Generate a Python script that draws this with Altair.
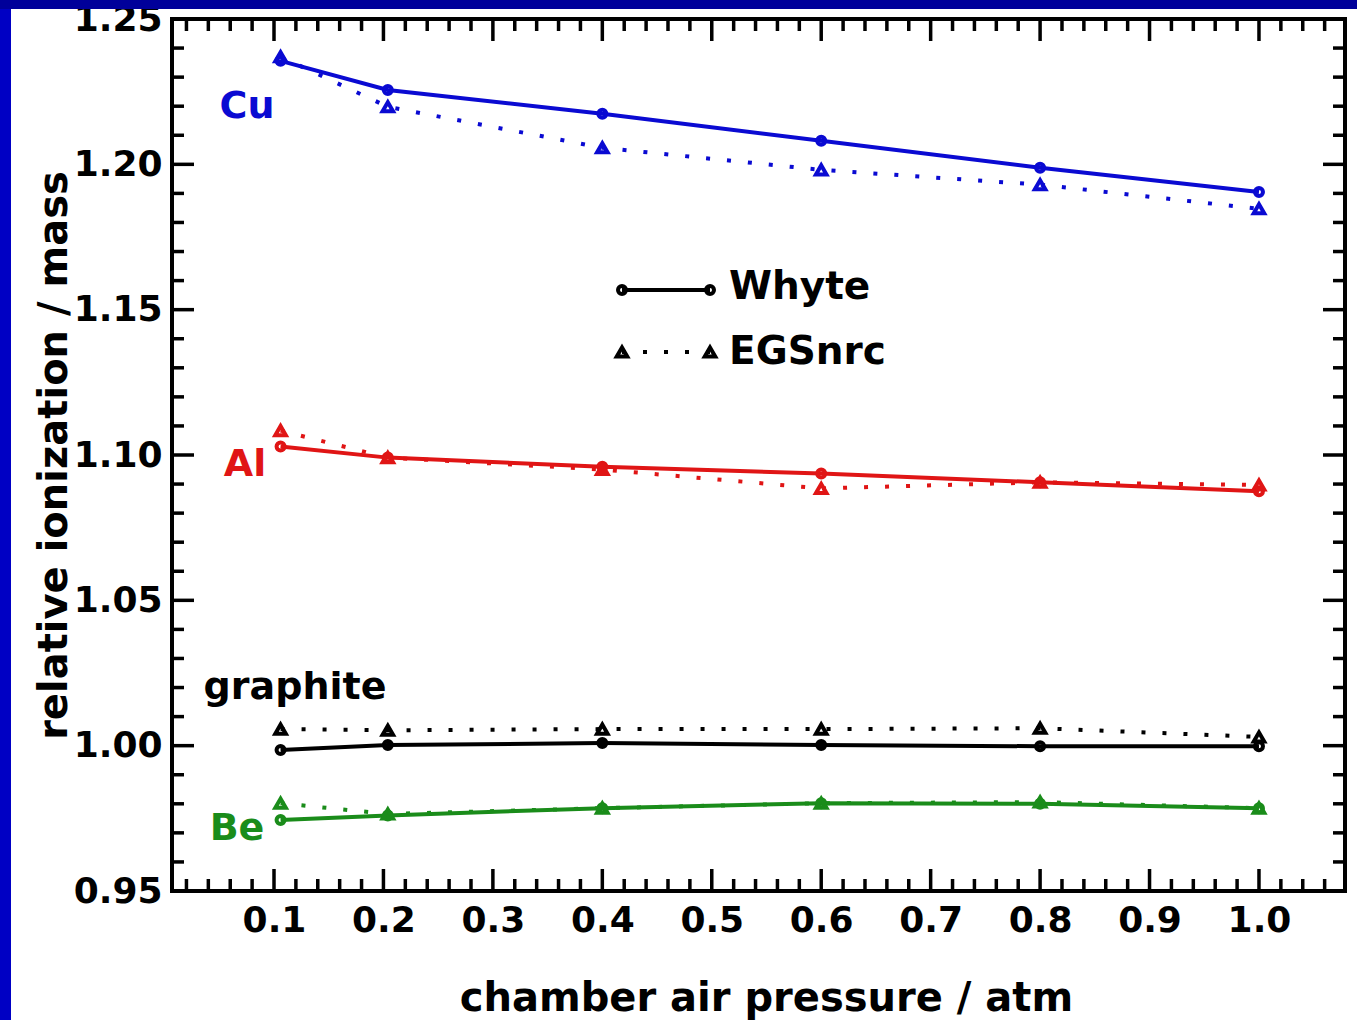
import altair as alt
import pandas as pd

# ---------------- data ----------------
pressure = [0.106, 0.204, 0.4, 0.6, 0.8, 1.0]
materials = ["Cu", "Al", "graphite", "Be"]
whyte = {
    "Cu":       [1.2356, 1.2256, 1.2174, 1.2081, 1.1988, 1.1905],
    "Al":       [1.1029, 1.0991, 1.0960, 1.0936, 1.0906, 1.0875],
    "graphite": [0.9985, 1.0002, 1.0009, 1.0002, 0.9998, 0.9998],
    "Be":       [0.9744, 0.9760, 0.9785, 0.9802, 0.9800, 0.9785],
}
egsnrc = {
    "Cu":       [1.2370, 1.2198, 1.2057, 1.1981, 1.1930, 1.1847],
    "Al":       [1.1084, 1.0991, 1.0950, 1.0885, 1.0906, 1.0897],
    "graphite": [1.0057, 1.0053, 1.0057, 1.0057, 1.0060, 1.0030],
    "Be":       [0.9802, 0.9765, 0.9785, 0.9802, 0.9806, 0.9785],
}
colors = ["#0a0ad2", "#e01515", "#000000", "#1a8c1a"]

# label anchor positions (data units)
label_x = [0.0753, 0.0735, 0.1192, 0.0662]
label_y = [1.2197, 1.0966, 1.0198, 0.9713]

x_tick_labels = [0.1, 0.2, 0.3, 0.4, 0.5, 0.6, 0.7, 0.8, 0.9, 1.0]
y_tick_labels = [0.95, 1.00, 1.05, 1.10, 1.15, 1.20, 1.25]
x_domain = [0.0068, 1.0786]
y_domain = [0.95, 1.25]

W, H = 1173, 872
FONT = "DejaVu Sans"

rows = []
for m in materials:
    for p, v in zip(pressure, whyte[m]):
        rows.append({"material": m, "method": "Whyte", "p": p, "v": v})
    for p, v in zip(pressure, egsnrc[m]):
        rows.append({"material": m, "method": "EGSnrc", "p": p, "v": v})
df = pd.DataFrame(rows)
df_w = df[df.method == "Whyte"]
df_e = df[df.method == "EGSnrc"]
labels_df = pd.DataFrame({"material": materials, "lx": label_x, "ly": label_y})

# tick positions
x_major = [round(0.1 * i, 2) for i in range(0, 11)]
x_minor = [round(0.02 * i, 2) for i in range(0, 55)]
x_minor = [t for t in x_minor if round(t * 10, 6) != round(t * 10) and x_domain[0] <= t <= x_domain[1]]
x_major = [t for t in x_major if x_domain[0] <= t <= x_domain[1]]
y_major = y_tick_labels
y_minor = [round(0.95 + 0.01 * i, 2) for i in range(31)]
y_minor = [t for t in y_minor if t not in y_major]

xs = alt.Scale(domain=x_domain, zero=False, nice=False)
ys = alt.Scale(domain=y_domain, zero=False, nice=False)
cs = alt.Scale(domain=materials, range=colors)

X = alt.X("p:Q", scale=xs, axis=alt.Axis(
    values=x_tick_labels, format=".1f", ticks=False, domain=False, grid=False,
    labelFont=FONT, labelFontSize=36, labelFontWeight="bold", labelColor="black",
    labelPadding=12, labelOverlap=False, labelFlush=False, labelBound=False,
    title="chamber air pressure / atm", titleFont=FONT, titleFontSize=40,
    titleFontWeight="bold", titleColor="black", titleX=594, titleY=119,
    titleBaseline="alphabetic"))
Y = alt.Y("v:Q", scale=ys, axis=alt.Axis(
    values=y_tick_labels, format=".2f", ticks=False, domain=False, grid=False,
    labelFont=FONT, labelFontSize=36, labelFontWeight="bold", labelColor="black",
    labelPadding=10, labelOverlap=False, labelFlush=False, labelBound=False,
    title="relative ionization / mass", titleFont=FONT, titleFontSize=40,
    titleFontWeight="bold", titleColor="black", titleX=-106, titleY=436,
    titleBaseline="alphabetic"))
C = alt.Color("material:N", scale=cs, legend=None)

CIRC = dict(shape="circle", size=64, strokeWidth=4, filled=False, opacity=1)
TRI = dict(shape="triangle-up", size=110, strokeWidth=4, filled=False, opacity=1)

whyte_line = alt.Chart(df_w).mark_line(strokeWidth=4).encode(x=X, y=Y, color=C, detail="material:N")
egs_line = alt.Chart(df_e).mark_line(strokeWidth=4, strokeDash=[4, 17], strokeCap="butt").encode(
    x=alt.X("p:Q", scale=xs), y=alt.Y("v:Q", scale=ys), color=C, detail="material:N")
whyte_pts = alt.Chart(df_w).mark_point(**CIRC).encode(
    x=alt.X("p:Q", scale=xs), y=alt.Y("v:Q", scale=ys), color=C)
egs_pts = alt.Chart(df_e).mark_point(**TRI).encode(
    x=alt.X("p:Q", scale=xs), y=alt.Y("v:Q", scale=ys), color=C)

labels = alt.Chart(labels_df).mark_text(font=FONT, fontSize=38, fontWeight="bold", align="center", baseline="middle").encode(
    x=alt.X("lx:Q", scale=xs), y=alt.Y("ly:Q", scale=ys), text="material:N", color=C)

# inward ticks on all four sides
def xticks(vals, length):
    d = pd.DataFrame({"t": vals})
    b = alt.Chart(d).mark_rule(color="black", strokeWidth=3.5, strokeCap="butt").encode(
        x=alt.X("t:Q", scale=xs), y=alt.value(H), y2=alt.value(H - length))
    t = alt.Chart(d).mark_rule(color="black", strokeWidth=3.5, strokeCap="butt").encode(
        x=alt.X("t:Q", scale=xs), y=alt.value(0), y2=alt.value(length))
    return [b, t]

def yticks(vals, length):
    d = pd.DataFrame({"t": vals})
    l = alt.Chart(d).mark_rule(color="black", strokeWidth=3.5, strokeCap="butt").encode(
        y=alt.Y("t:Q", scale=ys), x=alt.value(0), x2=alt.value(length))
    r = alt.Chart(d).mark_rule(color="black", strokeWidth=3.5, strokeCap="butt").encode(
        y=alt.Y("t:Q", scale=ys), x=alt.value(W), x2=alt.value(W - length))
    return [l, r]

ticks = xticks(x_major, 22) + xticks(x_minor, 12) + yticks(y_major, 22) + yticks(y_minor, 12)

# legend
one = alt.Data(values=[{"k": 1}])
LX0, LX1, LW, LE = 450, 538, 271, 333
leg = [
    alt.Chart(one).mark_rule(color="black", strokeWidth=4).encode(x=alt.value(LX0), x2=alt.value(LX1), y=alt.value(LW)),
    alt.Chart(one).mark_point(color="black", **CIRC).encode(x=alt.value(LX0), y=alt.value(LW)),
    alt.Chart(one).mark_point(color="black", **CIRC).encode(x=alt.value(LX1), y=alt.value(LW)),
    alt.Chart(one).mark_rule(color="black", strokeWidth=4, strokeDash=[4, 17], strokeCap="butt").encode(x=alt.value(LX0), x2=alt.value(LX1), y=alt.value(LE)),
    alt.Chart(one).mark_point(color="black", **TRI).encode(x=alt.value(LX0), y=alt.value(LE)),
    alt.Chart(one).mark_point(color="black", **TRI).encode(x=alt.value(LX1), y=alt.value(LE)),
    alt.Chart(one).mark_text(text="Whyte", font=FONT, fontSize=39, fontWeight="bold", align="left", baseline="middle", color="black").encode(x=alt.value(557), y=alt.value(LW - 3)),
    alt.Chart(one).mark_text(text="EGSnrc", font=FONT, fontSize=39, fontWeight="bold", align="left", baseline="middle", color="black").encode(x=alt.value(557), y=alt.value(LE)),
]

# blue slide border (left and top strips)
strips = [
    alt.Chart(one).mark_rect(color="#0000c4").encode(x=alt.value(-172), x2=alt.value(-161), y=alt.value(-19), y2=alt.value(1001)),
    alt.Chart(one).mark_rect(color="#00009a").encode(x=alt.value(-172), x2=alt.value(1185), y=alt.value(-19), y2=alt.value(-10)),
]

chart = alt.layer(
    whyte_line, egs_line, whyte_pts, egs_pts, labels, *ticks, *leg, *strips
).properties(
    width=W, height=H,
    autosize=alt.AutoSizeParams(type="none"),
    padding={"left": 172, "top": 19, "right": 12, "bottom": 129},
    background="white",
).configure_view(stroke="black", strokeWidth=4, fill="white")

chart.save("out.html", embed_options={"renderer": "svg", "actions": False})
